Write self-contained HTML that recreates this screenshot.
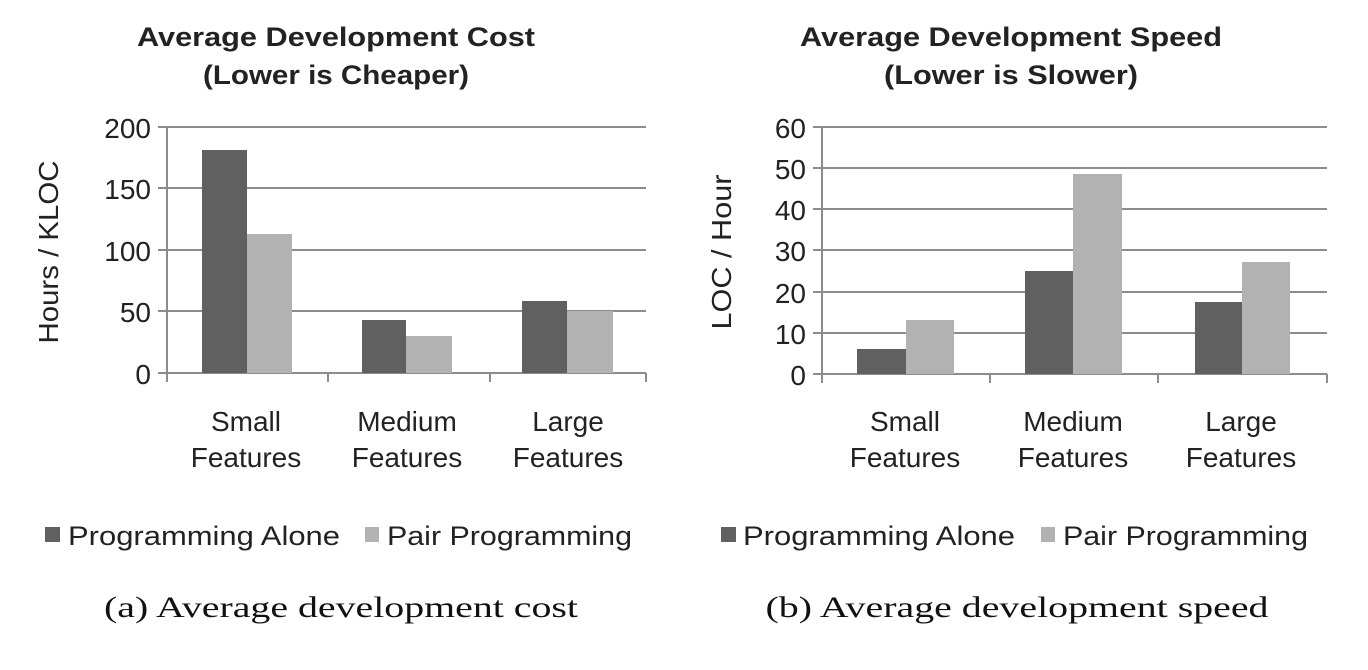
<!DOCTYPE html>
<html><head><meta charset="utf-8"><style>html,body{margin:0;padding:0;background:#fff}svg{display:block}</style></head>
<body>
<svg width="1368" height="670" xmlns="http://www.w3.org/2000/svg" font-family="Liberation Sans, Arial, sans-serif">
<rect width="1368" height="670" fill="#fff"/>
<g fill="#222" font-weight="bold" font-size="27" text-anchor="middle" lengthAdjust="spacingAndGlyphs">
<text x="336" y="46" textLength="398" lengthAdjust="spacingAndGlyphs">Average Development  Cost</text>
<text x="336" y="84" textLength="266" lengthAdjust="spacingAndGlyphs">(Lower is Cheaper)</text>
<text x="1011" y="46" textLength="422" lengthAdjust="spacingAndGlyphs">Average Development  Speed</text>
<text x="1011" y="84" textLength="254" lengthAdjust="spacingAndGlyphs">(Lower is Slower)</text>
</g>
<g stroke="#8c8c8c" stroke-width="2">
<line x1="158" y1="127" x2="646" y2="127"/>
<line x1="158" y1="188" x2="646" y2="188"/>
<line x1="158" y1="250" x2="646" y2="250"/>
<line x1="158" y1="311" x2="646" y2="311"/>
<line x1="158" y1="373" x2="646" y2="373"/>
<line x1="167" y1="127" x2="167" y2="382"/>
<line x1="328" y1="373" x2="328" y2="382"/>
<line x1="490" y1="373" x2="490" y2="382"/>
<line x1="646" y1="373" x2="646" y2="382"/>
</g>
<g fill="#606060">
<rect x="202" y="150" width="45" height="223"/>
<rect x="362" y="320" width="44" height="53"/>
<rect x="522" y="301" width="45" height="72"/>
</g>
<g fill="#b2b2b2">
<rect x="247" y="234" width="45" height="139"/>
<rect x="406" y="336" width="46" height="37"/>
<rect x="567" y="311" width="46" height="62"/>
</g>
<g fill="#222" font-size="28" text-anchor="end">
<text x="151" y="138">200</text>
<text x="151" y="199">150</text>
<text x="151" y="261">100</text>
<text x="151" y="322">50</text>
<text x="151" y="384">0</text>
</g>
<text transform="translate(58,252) rotate(-90)" text-anchor="middle" font-size="28" fill="#222" textLength="183" lengthAdjust="spacingAndGlyphs">Hours / KLOC</text>
<g fill="#222" font-size="28" text-anchor="middle">
<text x="246" y="431">Small</text><text x="246" y="467">Features</text>
<text x="407" y="431">Medium</text><text x="407" y="467">Features</text>
<text x="568" y="431">Large</text><text x="568" y="467">Features</text>
</g>
<rect x="45" y="527" width="15" height="15" fill="#606060"/>
<text x="68" y="545" font-size="27" fill="#222" textLength="272" lengthAdjust="spacingAndGlyphs">Programming Alone</text>
<rect x="365" y="527" width="14" height="15" fill="#b2b2b2"/>
<text x="387" y="545" font-size="27" fill="#222" textLength="245" lengthAdjust="spacingAndGlyphs">Pair Programming</text>
<text x="341" y="617" font-family="Liberation Serif, serif" font-size="30" fill="#111" text-anchor="middle" textLength="474" lengthAdjust="spacingAndGlyphs">(a) Average development cost</text>

<g stroke="#8c8c8c" stroke-width="2">
<line x1="813" y1="127" x2="1327" y2="127"/>
<line x1="813" y1="168" x2="1327" y2="168"/>
<line x1="813" y1="209" x2="1327" y2="209"/>
<line x1="813" y1="250" x2="1327" y2="250"/>
<line x1="813" y1="292" x2="1327" y2="292"/>
<line x1="813" y1="333" x2="1327" y2="333"/>
<line x1="813" y1="374" x2="1327" y2="374"/>
<line x1="822" y1="127" x2="822" y2="383"/>
<line x1="990" y1="374" x2="990" y2="383"/>
<line x1="1158" y1="374" x2="1158" y2="383"/>
<line x1="1327" y1="374" x2="1327" y2="383"/>
</g>
<g fill="#606060">
<rect x="857" y="349" width="49" height="25"/>
<rect x="1025" y="271" width="48" height="103"/>
<rect x="1195" y="302" width="47" height="72"/>
</g>
<g fill="#b2b2b2">
<rect x="906" y="320" width="48" height="54"/>
<rect x="1073" y="174" width="49" height="200"/>
<rect x="1242" y="262" width="48" height="112"/>
</g>
<g fill="#222" font-size="28" text-anchor="end">
<text x="806" y="138">60</text>
<text x="806" y="179">50</text>
<text x="806" y="220">40</text>
<text x="806" y="261">30</text>
<text x="806" y="303">20</text>
<text x="806" y="344">10</text>
<text x="806" y="385">0</text>
</g>
<text transform="translate(731,252) rotate(-90)" text-anchor="middle" font-size="28" fill="#222" textLength="155" lengthAdjust="spacingAndGlyphs">LOC / Hour</text>
<g fill="#222" font-size="28" text-anchor="middle">
<text x="905" y="431">Small</text><text x="905" y="467">Features</text>
<text x="1073" y="431">Medium</text><text x="1073" y="467">Features</text>
<text x="1241" y="431">Large</text><text x="1241" y="467">Features</text>
</g>
<rect x="721" y="527" width="15" height="15" fill="#606060"/>
<text x="743" y="545" font-size="27" fill="#222" textLength="272" lengthAdjust="spacingAndGlyphs">Programming Alone</text>
<rect x="1041" y="527" width="14" height="15" fill="#b2b2b2"/>
<text x="1063" y="545" font-size="27" fill="#222" textLength="245" lengthAdjust="spacingAndGlyphs">Pair Programming</text>
<text x="1017" y="617" font-family="Liberation Serif, serif" font-size="30" fill="#111" text-anchor="middle" textLength="503" lengthAdjust="spacingAndGlyphs">(b) Average development speed</text>
</svg>
</body></html>
